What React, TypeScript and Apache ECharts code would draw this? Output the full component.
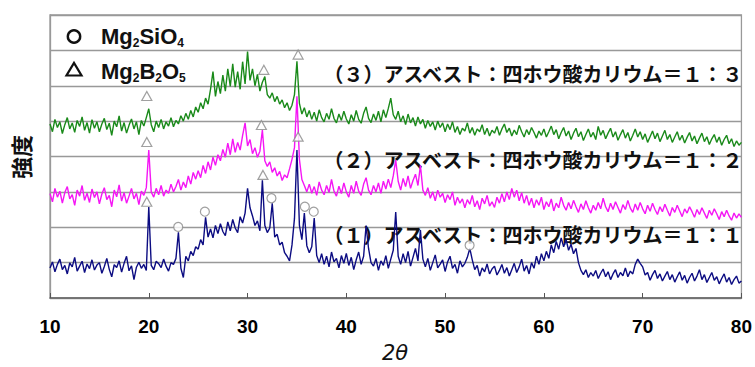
import React, { useEffect, useRef } from "react";
import * as echarts from "echarts";

// 2θ sampling of the traces
const ANGLE_START = 10;
const ANGLE_STEP = 0.25;
const xTicks = [10, 20, 30, 40, 50, 60, 70, 80];

// (1) アスベスト：四ホウ酸カリウム＝1：1  (navy)
const trace1 = [
  85, 102, 74, 95, 110, 80, 92, 68, 99, 88, 115, 76, 90, 104, 72, 96, 83, 108, 79, 93,
  100, 70, 89, 112, 81, 60, 94, 86, 105, 73, 98, 118, 77, 91, 52, 87, 101, 84, 95, 78,
  257, 92, 80, 104, 97, 86, 110, 90, 76, 100, 95, 112, 186, 84, 58, 118, 105, 132, 120, 145,
  138, 165, 150, 228, 172, 195, 170, 205, 182, 210, 188, 176, 215, 190, 222, 198, 185, 230, 212, 240,
  310, 255, 232, 205, 218, 190, 333, 205, 185, 198, 268, 172, 180, 150, 158, 128, 118, 105, 150, 225,
  418, 205, 165, 240, 148, 128, 145, 226, 120, 100, 125, 95, 118, 88, 130, 102, 112, 85, 120, 98,
  126, 92, 115, 80, 108, 130, 95, 118, 205, 140, 100, 90, 112, 78, 105, 92, 120, 84, 110, 135,
  243, 118, 95, 125, 100, 132, 90, 115, 140, 105, 192, 110, 88, 112, 78, 100, 122, 85, 96, 108,
  75, 102, 118, 84, 95, 70, 105, 88, 98, 115, 140, 108, 80, 92, 62, 85, 74, 96, 68, 82,
  90, 65, 78, 95, 70, 86, 62, 80, 98, 72, 88, 110, 76, 92, 68, 100, 84, 118, 95, 125,
  105, 132, 112, 150, 128, 160, 138, 170, 145, 165, 135, 152, 125, 140, 100, 78, 66, 80, 58, 72,
  62, 78, 55, 70, 82, 60, 74, 52, 68, 80, 58, 72, 63, 85, 60, 76, 68, 95, 110, 98,
  88, 65, 72, 50, 66, 78, 55, 68, 48, 62, 75, 52, 66, 45, 60, 74, 50, 64, 42, 58,
  70, 48, 62, 80, 52, 66, 44, 58, 72, 50, 60, 40, 55, 68, 45, 58, 38, 52, 62, 42,
  48,
];

// (2) アスベスト：四ホウ酸カリウム＝1：2  (magenta)
const trace2 = [
  295, 272, 310, 285, 302, 268, 298, 315, 280, 292, 262, 305, 288, 318, 276, 296, 270, 308, 284, 300,
  266, 294, 312, 278, 290, 258, 305, 286, 320, 274, 298, 268, 288, 310, 280, 296, 264, 302, 290, 312,
  418, 300, 285, 310, 292, 318, 288, 305, 296, 322, 300, 315, 335, 305, 328, 312, 345, 322, 355, 336,
  360, 340, 375, 352, 385, 362, 398, 375, 405, 388, 420, 398, 438, 405, 450, 412, 440, 418, 460, 495,
  430, 448, 408, 425, 398, 415, 475, 388, 372, 385, 355, 368, 345, 358, 332, 348, 340, 365, 392, 425,
  570, 392, 335, 318, 300, 322, 296, 315, 290, 328, 305, 292, 318, 298, 335, 302, 288, 316, 295, 325,
  300, 285, 318, 296, 330, 302, 290, 322, 340, 305, 292, 318, 300, 325, 296, 330, 308, 336, 312, 345,
  390, 330, 305, 338, 315, 345, 310, 332, 350, 318, 375, 305, 290, 312, 282, 300, 275, 305, 285, 296,
  270, 292, 278, 300, 262, 285, 268, 280, 255, 278, 265, 290, 258, 275, 250, 282, 266, 290, 260, 272,
  256, 285, 268, 295, 272, 300, 278, 310, 285, 305, 275, 298, 268, 290, 262, 282, 255, 278, 262, 285,
  250, 272, 258, 280, 246, 268, 255, 285, 262, 248, 270, 252, 276, 258, 242, 266, 250, 275, 255, 240,
  262, 248, 270, 252, 282, 258, 244, 268, 250, 272, 256, 240, 264, 250, 276, 254, 242, 266, 248, 270,
  252, 238, 262, 245, 268, 250, 236, 258, 244, 265, 248, 232, 256, 242, 262, 246, 230, 252, 240, 258,
  244, 228, 250, 236, 255, 240, 225, 248, 234, 252, 238, 222, 244, 230, 248, 232, 220, 240, 226, 238,
  228,
];

// (3) アスベスト：四ホウ酸カリウム＝1：3  (green)
const trace3 = [
  492, 470, 505, 482, 498, 465, 490, 510, 478, 495, 468, 502, 485, 512, 474, 496, 466, 504, 480, 498,
  470, 492, 508, 476, 494, 460, 500, 484, 515, 472, 496, 466, 488, 506, 478, 498, 462, 502, 486, 510,
  535, 490, 470, 500, 482, 505, 478, 498, 486, 510, 484, 502, 492, 515, 500, 522, 505, 530, 512, 540,
  525, 552, 535, 565, 548, 590, 640, 570, 612, 578, 630, 585, 648, 598, 662, 596, 640, 590, 668, 605,
  697, 615, 648, 600, 632, 585, 610, 626, 575, 565, 580, 555, 570, 548, 560, 538, 552, 530, 545, 575,
  669, 550, 520, 538, 512, 530, 505, 525, 500, 532, 510, 498, 522, 505, 535, 508, 495, 520, 502, 528,
  506, 492, 518, 500, 530, 505, 494, 522, 540, 508, 496, 520, 502, 528, 498, 532, 510, 536, 565, 518,
  505, 528, 498, 515, 490, 520, 495, 510, 486, 512, 492, 505, 480, 502, 485, 498, 475, 500, 482, 495,
  470, 492, 476, 498, 468, 485, 462, 480, 472, 495, 466, 482, 460, 478, 470, 490, 462, 480, 458, 474,
  466, 485, 460, 478, 492, 468, 480, 458, 475, 462, 488, 470, 455, 476, 462, 482, 468, 452, 472, 460,
  478, 455, 470, 486, 462, 476, 450, 468, 482, 458, 472, 448, 466, 480, 456, 470, 445, 462, 478, 455,
  468, 448, 485, 460, 474, 450, 466, 480, 455, 470, 446, 462, 476, 452, 468, 444, 460, 478, 455, 470,
  448, 464, 440, 456, 472, 450, 466, 442, 458, 474, 448, 462, 440, 455, 470, 446, 460, 438, 454, 468,
  444, 458, 436, 452, 466, 442, 456, 434, 450, 462, 440, 455, 432, 448, 460, 436, 450, 428, 444, 432,
  440,
];

// peak markers [2θ, intensity]
const circlePeaks = [
  [22.98, 201], [25.68, 244], [32.42, 282], [35.8, 258], [36.7, 244], [52.48, 149],
];
const trianglePeaks = [
  [19.8, 571], [19.8, 441], [19.8, 272],
  [31.65, 645], [31.4, 489], [31.56, 348],
  [35.12, 688], [35.12, 456],
];

const seriesNames = [
  "（１）アスベスト：四ホウ酸カリウム＝１：１",
  "（２）アスベスト：四ホウ酸カリウム＝１：２",
  "（３）アスベスト：四ホウ酸カリウム＝１：３",
];
const seriesColors = ["#0c0c82", "#f516f5", "#1a8a1a"];
const legendPhases = ["{a|Mg}{s|2}{a|SiO}{s|4}", "{a|Mg}{s|2}{a|B}{s|2}{a|O}{s|5}"];

const angles = trace1.map((_, i) => ANGLE_START + i * ANGLE_STEP);

export default function App() {
  const ref = useRef<HTMLDivElement>(null);

  useEffect(() => {
    if (!ref.current) return;
    const chart = echarts.init(ref.current, undefined, { renderer: "svg" });
    const traces = [trace1, trace2, trace3];
    const cjk = "'Noto Sans CJK JP', sans-serif";
    const latin = "'Liberation Sans', Arial, sans-serif";
    const richSub = {
      a: { font: "bold 22px 'Liberation Sans', Arial, sans-serif", fontSize: 22, fontWeight: "bold", fill: "#111", lineHeight: 24 },
      s: { font: "bold 12px 'Liberation Sans', Arial, sans-serif", fontSize: 12, fontWeight: "bold", fill: "#111", verticalAlign: "bottom", lineHeight: 24 },
    };
    const labelYs = [234, 159, 73];

    chart.setOption({
      animation: false,
      backgroundColor: "#fff",
      grid: {
        left: 50, right: 13, top: 15, bottom: 69,
        show: true, borderColor: "#999", borderWidth: 1.3, backgroundColor: "#fff",
      },
      xAxis: {
        type: "value", min: xTicks[0], max: xTicks[xTicks.length - 1], interval: 10,
        axisLine: { show: true, lineStyle: { color: "#666", width: 1.5 } },
        axisTick: { show: true, inside: true, length: 5, lineStyle: { color: "#555" } },
        axisLabel: { fontSize: 19, fontWeight: "bold", color: "#000", fontFamily: latin, margin: 19 },
        splitLine: { show: false },
      },
      yAxis: {
        type: "value", min: 0, max: 800, interval: 100,
        axisLine: { show: true, lineStyle: { color: "#999", width: 1.3 } },
        axisTick: { show: false },
        axisLabel: { show: false },
        splitLine: { show: true, lineStyle: { color: "#999", width: 1.3 } },
      },
      series: [
        ...traces.map((t, k) => ({
          name: seriesNames[k],
          type: "line",
          data: t.map((v, i) => [angles[i], v]),
          showSymbol: false,
          symbol: "none",
          lineStyle: { color: seriesColors[k], width: 1.4 },
          z: 3 + k,
        })),
        {
          type: "scatter",
          data: circlePeaks,
          symbol: "circle",
          symbolSize: 9,
          itemStyle: { color: "#fff", borderColor: "#888", borderWidth: 1.2 },
          z: 10,
        },
        {
          type: "scatter",
          data: trianglePeaks,
          symbol: "triangle",
          symbolSize: [10, 9],
          itemStyle: { color: "#fff", borderColor: "#888", borderWidth: 1.2 },
          z: 10,
        },
      ],
      graphic: [
        { type: "circle", shape: { cx: 74, cy: 36.5, r: 6.2 }, style: { fill: "none", stroke: "#111", lineWidth: 2.4 }, z: 20 },
        { type: "polygon", shape: { points: [[66.5, 75.5], [81.5, 75.5], [74, 63]] }, style: { fill: "none", stroke: "#111", lineWidth: 2.2 }, z: 20 },
        { type: "text", x: 101, y: 36.5, style: { text: legendPhases[0], rich: richSub, font: "bold 22px 'Liberation Sans', Arial, sans-serif", verticalAlign: "middle", align: "left" }, z: 20 },
        { type: "text", x: 101, y: 71.5, style: { text: legendPhases[1], rich: richSub, font: "bold 22px 'Liberation Sans', Arial, sans-serif", verticalAlign: "middle", align: "left" }, z: 20 },
        ...seriesNames.map((n, k) => ({
          type: "text", x: 533, y: labelYs[k],
          style: { text: n, fontSize: 20, fontWeight: "bold", fontFamily: cjk, fill: "#111", align: "center", verticalAlign: "middle" },
          z: 2,
        })),
        {
          type: "text", x: 20, y: 157, rotation: Math.PI / 2,
          style: { text: "強度", fontSize: 22, fontWeight: "bold", fontFamily: cjk, fill: "#111", align: "center", verticalAlign: "middle" },
        },
        {
          type: "text", x: 395, y: 353,
          style: { text: "2θ", fontSize: 21, fontStyle: "italic", fontFamily: "'DejaVu Sans', sans-serif", fill: "#111", align: "center", verticalAlign: "middle" },
        },
      ],
    });
    return () => chart.dispose();
  }, []);

  return <div ref={ref} style={{ position: "fixed", left: 0, top: 0, width: 755, height: 367 }} />;
}
